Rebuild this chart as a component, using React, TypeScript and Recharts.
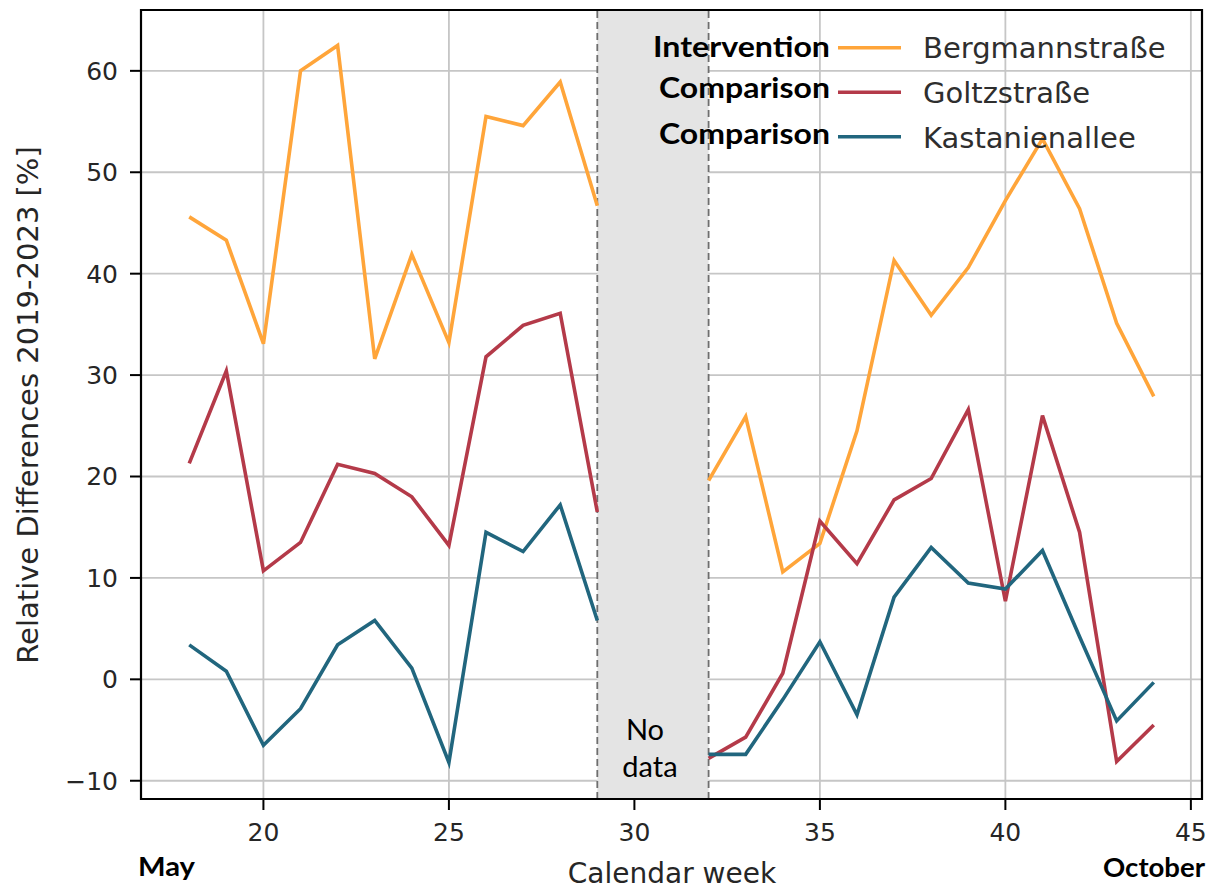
import React from 'react';
import {
  ComposedChart,
  Line,
  XAxis,
  YAxis,
  CartesianGrid,
  ReferenceArea,
  ReferenceLine,
} from 'recharts';

// ---- data ----
const weeks = [18, 19, 20, 21, 22, 23, 24, 25, 26, 27, 28, 29, 30, 31, 32, 33, 34, 35, 36, 37, 38, 39, 40, 41, 42, 43, 44];
const bergmann = [45.6, 43.3, 33.1, 60.0, 62.5, 31.6, 41.9, 33.2, 55.5, 54.6, 58.9, 46.7, null, null, 19.6, 25.9, 10.6, 13.4, 24.5, 41.3, 35.9, 40.6, 47.2, 53.3, 46.4, 35.1, 27.9];
const goltz = [21.3, 30.4, 10.7, 13.5, 21.2, 20.3, 18.0, 13.2, 31.8, 34.9, 36.1, 16.5, null, null, -7.8, -5.7, 0.6, 15.6, 11.4, 17.7, 19.8, 26.6, 7.7, 26.0, 14.5, -8.1, -4.5];
const kastanien = [3.4, 0.8, -6.5, -2.9, 3.4, 5.8, 1.1, -8.2, 14.5, 12.6, 17.2, 5.8, null, null, -7.4, -7.4, -2.0, 3.7, -3.5, 8.1, 13.0, 9.5, 8.9, 12.7, 4.2, -4.1, -0.3];

const xTicks = [20, 25, 30, 35, 40, 45];
const yTicks = [-10, 0, 10, 20, 30, 40, 50, 60];

const seriesKeys = ['b', 'g', 'k'];
const seriesNames = ['Bergmannstraße', 'Goltzstraße', 'Kastanienallee'];
const seriesRoles = ['Intervention', 'Comparison', 'Comparison'];
const seriesColors = ['#FFA53A', '#B43A49', '#21667E'];

const noDataRange = [29, 32];
const X_DOMAIN: [number, number] = [16.7, 45.3];
const Y_DOMAIN: [number, number] = [-11.8, 66.0];

const data = weeks.map((w, i) => ({ week: w, b: bergmann[i], g: goltz[i], k: kastanien[i] }));

const fmt = (v: number) => (v < 0 ? '\u2212' + Math.abs(v) : String(v));

const BOLD = 'Lato, "Open Sans", sans-serif';
const MPL = '"DejaVu Sans", sans-serif';

// legend geometry
const roleEnd = 830;
const roleWidths = [177, 171, 171];
const roleBaselines = [57, 98, 144];
const lineYs = [47.7, 92.3, 136.7];
const nameBaselines = [58.3, 102.7, 147.5];

export default function App() {
  return (
    <div style={{ position: 'absolute', left: 0, top: 0, width: 1216, height: 889, background: '#fff' }}>
      <ComposedChart
        width={1216}
        height={889}
        data={data}
        margin={{ top: 10, right: 14, bottom: 0, left: 0 }}
        style={{ fontFamily: MPL }}
      >
        <CartesianGrid stroke="#c6c6c6" strokeWidth={1.8} />
        <XAxis
          dataKey="week"
          type="number"
          domain={X_DOMAIN}
          ticks={xTicks}
          interval={0}
          allowDataOverflow
          height={90}
          tickSize={11}
          tickMargin={13}
          tickLine={{ stroke: '#000', strokeWidth: 2 }}
          axisLine={{ stroke: '#000', strokeWidth: 2 }}
          tick={{ fontSize: 25, fill: '#262626' }}
          tickFormatter={fmt}
        />
        <YAxis
          type="number"
          domain={Y_DOMAIN}
          ticks={yTicks}
          interval={0}
          allowDataOverflow
          width={141}
          tickSize={11}
          tickMargin={12}
          tickLine={{ stroke: '#000', strokeWidth: 2 }}
          axisLine={{ stroke: '#000', strokeWidth: 2 }}
          tick={{ fontSize: 25, fill: '#262626' }}
          tickFormatter={fmt}
        />
        <ReferenceArea x1={noDataRange[0]} x2={noDataRange[1]} fill="#e4e4e4" fillOpacity={1} stroke="none" />
        <ReferenceLine x={noDataRange[0]} stroke="#6e6e6e" strokeDasharray="7 4" strokeWidth={1.8} />
        <ReferenceLine x={noDataRange[1]} stroke="#6e6e6e" strokeDasharray="7 4" strokeWidth={1.8} />
        {seriesKeys.map((k, i) => (
          <Line
            key={k}
            type="linear"
            dataKey={k}
            name={seriesNames[i]}
            stroke={seriesColors[i]}
            strokeWidth={3.6}
            dot={false}
            activeDot={false}
            connectNulls={false}
            isAnimationActive={false}
          />
        ))}
        <ReferenceArea
          x1={X_DOMAIN[0]}
          x2={X_DOMAIN[1]}
          y1={Y_DOMAIN[0]}
          y2={Y_DOMAIN[1]}
          fill="none"
          fillOpacity={0}
          stroke="#000"
          strokeWidth={2.2}
        />
      </ComposedChart>
      <svg
        width={1216}
        height={889}
        style={{ position: 'absolute', left: 0, top: 0, pointerEvents: 'none' }}
      >
        {/* y axis label */}
        <text
          x={38}
          y={405}
          transform="rotate(-90, 38, 405)"
          textAnchor="middle"
          fontFamily={MPL}
          fontSize={29}
          fill="#262626"
        >
          Relative Differences 2019-2023 [%]
        </text>
        {/* x axis label */}
        <text x={672} y={883} textAnchor="middle" fontFamily={MPL} fontSize={28} fill="#262626">
          Calendar week
        </text>
        <text x={138} y={876} fontFamily={BOLD} fontWeight={700} fontSize={26} fill="#000" textLength={57} lengthAdjust="spacingAndGlyphs">
          May
        </text>
        <text x={1103} y={877} fontFamily={BOLD} fontWeight={700} fontSize={26} fill="#000" textLength={102} lengthAdjust="spacingAndGlyphs">
          October
        </text>
        {/* no data label */}
        <text x={645} y={740} textAnchor="middle" fontFamily={BOLD} fontSize={29} fill="#000">
          No
        </text>
        <text x={650} y={777} textAnchor="middle" fontFamily={BOLD} fontSize={29} fill="#000">
          data
        </text>
        {/* legend */}
        {seriesNames.map((n, i) => (
          <g key={n}>
            <text
              x={roleEnd}
              y={roleBaselines[i]}
              textAnchor="end"
              fontFamily={BOLD}
              fontWeight={700}
              fontSize={28}
              fill="#000"
              textLength={roleWidths[i]}
              lengthAdjust="spacingAndGlyphs"
            >
              {seriesRoles[i]}
            </text>
            <line x1={838} x2={901} y1={lineYs[i]} y2={lineYs[i]} stroke={seriesColors[i]} strokeWidth={3.6} />
            <text x={923} y={nameBaselines[i]} fontFamily={MPL} fontSize={29} fill="#2e2e2e">
              {n}
            </text>
          </g>
        ))}
      </svg>
    </div>
  );
}
